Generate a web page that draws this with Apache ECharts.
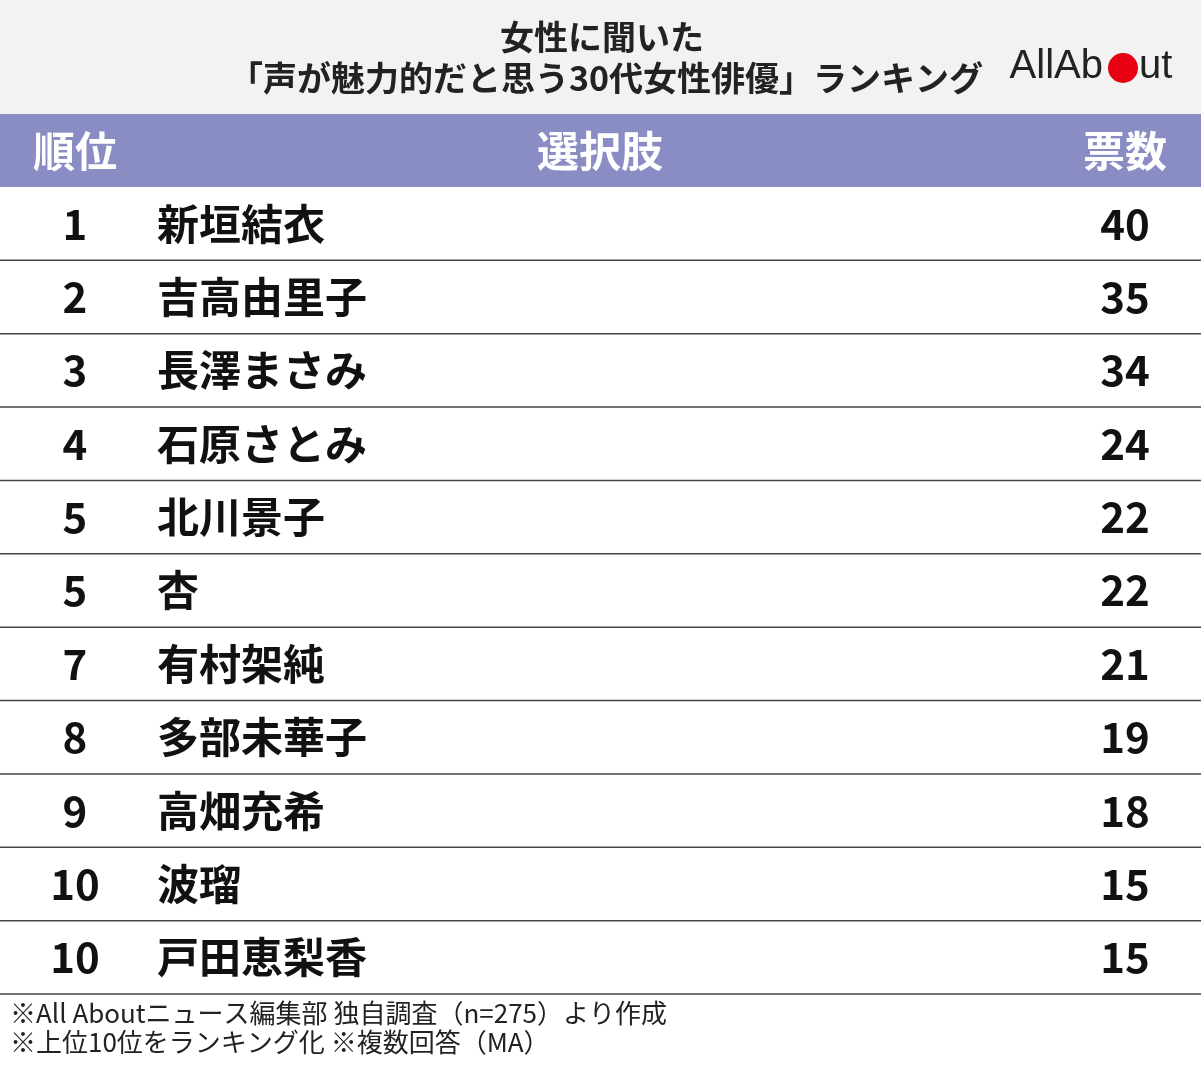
<!DOCTYPE html>
<html><head><meta charset="utf-8">
<script src="https://cdn.jsdelivr.net/npm/echarts@6/dist/echarts.min.js"></script>
<style>html,body{margin:0;padding:0;background:#fff}#c{width:1201px;height:1069px}</style>
</head><body><div id="c"></div>
<script>
const ranks = ['1','2','3','4','5','5','7','8','9','10','10'];
const names = ['新垣結衣','吉高由里子','長澤まさみ','石原さとみ','北川景子','杏','有村架純','多部未華子','高畑充希','波瑠','戸田恵梨香'];
const votes = [40,35,34,24,22,22,21,19,18,15,15];
const headers = ['順位','選択肢','票数'];
const F = '"Noto Sans CJK JP","Noto Sans",sans-serif';
const L = '"Liberation Sans",sans-serif';
const chart = echarts.init(document.getElementById('c'));
const data = names.map((n,i)=>[0,i]);
chart.setOption({
  animation:false,
  grid:{left:0,right:0,top:187,bottom:75},
  xAxis:{type:'value',min:0,max:1200,show:false},
  yAxis:{type:'category',data:names,inverse:true,show:false},
  graphic:[
    {type:'rect',shape:{x:0,y:0,width:1201,height:114},style:{fill:'#f2f2f2'}},
    {type:'rect',shape:{x:0,y:114,width:1201,height:73},style:{fill:'#8a8cc4'}},
    {type:'text',x:602,y:37,style:{text:'女性に聞いた',font:'bold 34px '+F,fill:'#222',align:'center',verticalAlign:'middle'}},
    {type:'text',x:606,y:78,style:{text:'「声が魅力的だと思う30代女性俳優」ランキング',font:'bold 34px '+F,fill:'#222',align:'center',verticalAlign:'middle'}},
    {type:'text',x:1103,y:67,style:{text:'AllAb',font:'40px '+L,fill:'#222',align:'right',verticalAlign:'middle'}},
    {type:'circle',shape:{cx:1123,cy:68,r:15},style:{fill:'#e60012'}},
    {type:'text',x:1139,y:67,style:{text:'ut',font:'40px '+L,fill:'#222',align:'left',verticalAlign:'middle'}},
    {type:'text',x:75,y:151,style:{text:headers[0],font:'bold 42px '+F,fill:'#fff',align:'center',verticalAlign:'middle'}},
    {type:'text',x:600,y:151,style:{text:headers[1],font:'bold 42px '+F,fill:'#fff',align:'center',verticalAlign:'middle'}},
    {type:'text',x:1125,y:151,style:{text:headers[2],font:'bold 42px '+F,fill:'#fff',align:'center',verticalAlign:'middle'}},
    {type:'text',x:10,y:1013,style:{text:'※All Aboutニュース編集部 独自調査（n=275）より作成',font:'26px '+F,fill:'#222',verticalAlign:'middle'}},
    {type:'text',x:10,y:1042,style:{text:'※上位10位をランキング化 ※複数回答（MA）',font:'26px '+F,fill:'#222',verticalAlign:'middle'}}
  ],
  series:[{
    type:'custom',
    data:data,
    renderItem:function(params,api){
      const p = api.coord([0,api.value(1)]);
      const h = api.size([0,1])[1];
      const y = p[1];
      const i = params.dataIndex;
      return {type:'group',children:[
        {type:'text',style:{x:75,y:y,text:String(ranks[i]),font:'bold 42px '+F,fill:'#111',align:'center',verticalAlign:'middle'}},
        {type:'text',style:{x:157,y:y,text:names[i],font:'bold 42px '+F,fill:'#111',align:'left',verticalAlign:'middle'}},
        {type:'text',style:{x:1125,y:y,text:String(votes[i]),font:'bold 42px '+F,fill:'#111',align:'center',verticalAlign:'middle'}},
        {type:'line',shape:{x1:0,y1:y+h/2,x2:1201,y2:y+h/2},style:{stroke:'#444',lineWidth:1.5}}
      ]};
    }
  }]
});
</script></body></html>
